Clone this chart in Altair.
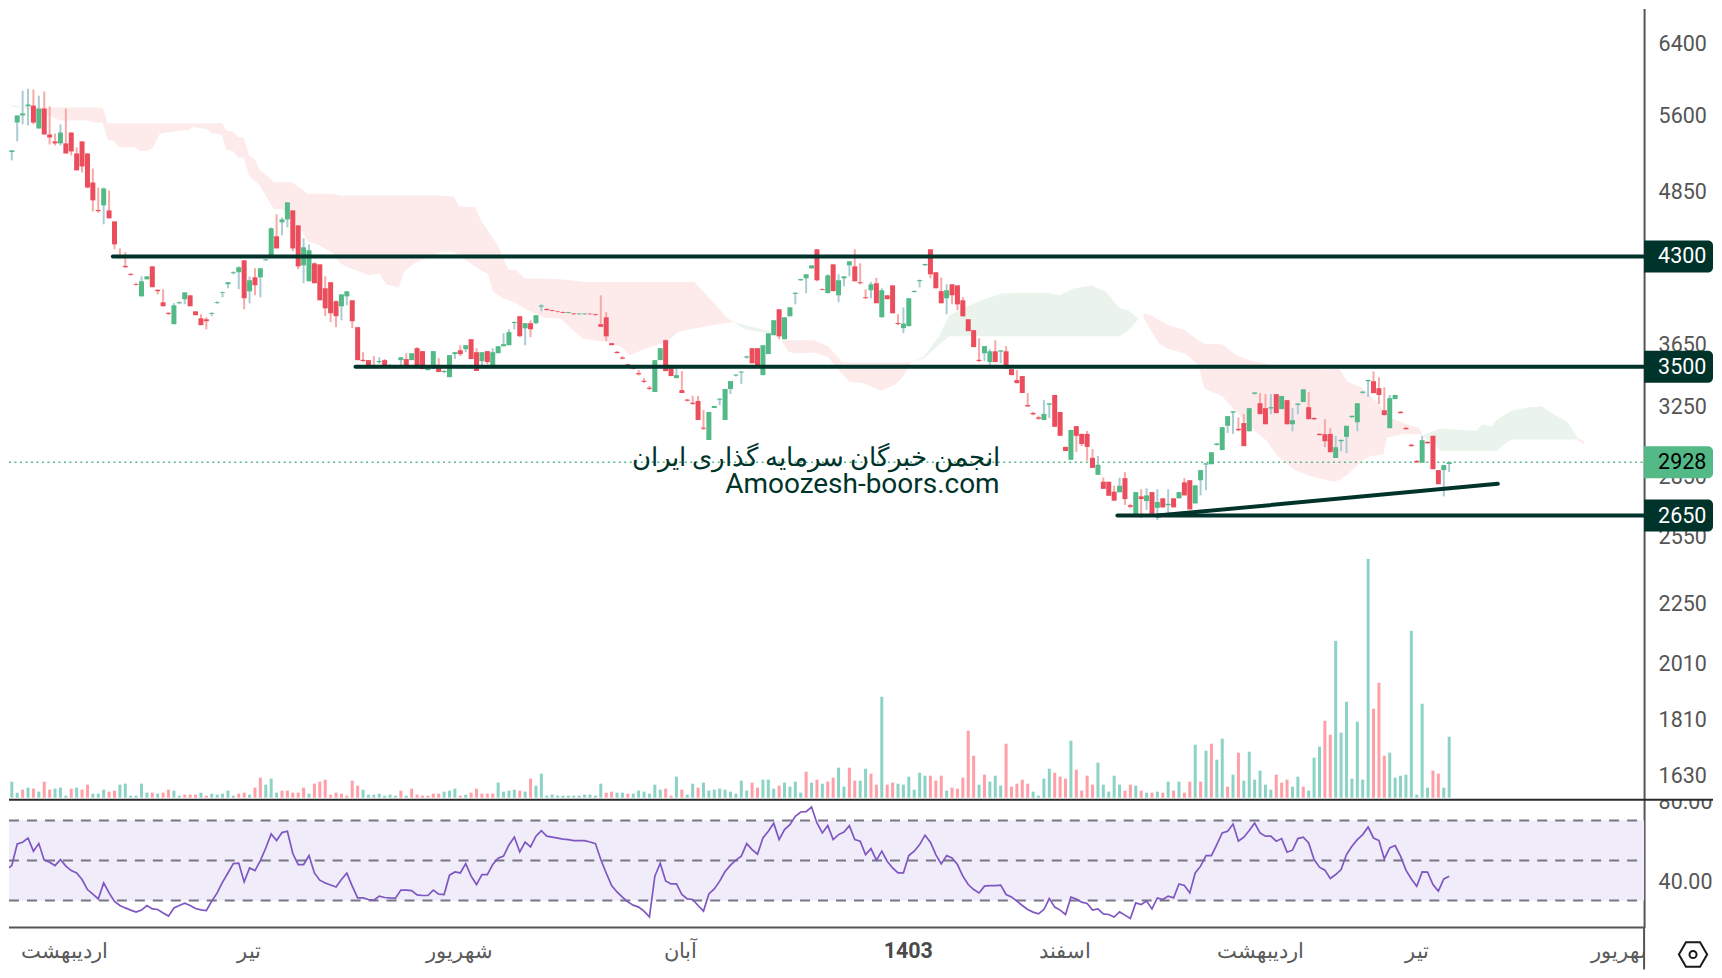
import math
import altair as alt
import pandas as pd

# ---- candles: (open, high, low, close) ----
candles_a = [
(5130,5140,5120,5135),(5185,5200,5175,5192),(5226,5242,5145,5242),(5522,5596,5331,5596),(5596,5862,5503,5617),
(5693,5881,5492,5711),(5700,5873,5503,5522),(5461,5807,5461,5668),(5668,5851,5400,5400),(5400,5690,5300,5370),
(5331,5410,5290,5311),(5311,5503,5290,5420),(5311,5668,5212,5212),(5420,5420,5193,5232),(5212,5272,5050,5050),
(5331,5331,5030,5087),(5212,5212,4882,4891),(4937,5068,4677,4775),(4690,4891,4665,4680),(4731,4891,4566,4882),
(4686,4864,4617,4617),(4591,4591,4357,4398),(4305,4365,4285,4295),(4225,4334,4206,4215),(4162,4170,4148,4155),
(4085,4094,4072,4078),(3991,4143,3991,4105),(4120,4143,4120,4143),(4221,4221,4060,4060),(4040,4045,4005,4030),
(3947,4045,3918,3918),(3870,3875,3853,3863),(3789,3940,3789,3925),(3940,3955,3933,3947),(3970,4021,3933,4021),
(3999,3999,3918,3918),(3881,3881,3853,3853),(3831,3860,3782,3782),(3824,3838,3753,3810),(3862,3875,3846,3868),
(3942,3955,3935,3948),(4018,4026,3984,4024),(4083,4098,4052,4098),(4168,4182,4158,4175),(4175,4221,4045,4214),
(4269,4269,3896,3977),(4029,4143,3940,4113),(4136,4206,3999,4075),(4136,4206,3984,4206),(4270,4280,4265,4277),
(4301,4540,4301,4532),(4465,4652,4365,4365),(4583,4625,4473,4608),(4608,4757,4540,4757),(4686,4686,4342,4365),
(4557,4557,4198,4221),(4229,4448,4090,4374),(4105,4398,4105,4350),(4245,4253,4090,4090),(4237,4237,3962,3962),
(4052,4143,3846,3903),(4098,4098,3803,3867),(3955,3962,3768,3846),(3918,4006,3817,4006),(3991,4029,3925,4029),
(3962,3962,3760,3810),(3768,3768,3543,3543),(3545,3596,3530,3537),(3543,3543,3497,3497),(3507,3569,3490,3499),
(3530,3562,3517,3537),(3543,3550,3497,3497),(3502,3517,3490,3507),(3499,3503,3486,3495),(3543,3562,3497,3562),
(3550,3589,3503,3503),(3543,3589,3543,3589),(3623,3630,3490,3490),(3603,3603,3484,3484),(3477,3508,3477,3490),
(3490,3603,3484,3603),(3503,3556,3465,3465),(3465,3477,3458,3472),(3432,3576,3432,3576),(3583,3596,3550,3596),
(3609,3643,3569,3583),(3616,3643,3596,3643),(3684,3684,3550,3550),(3596,3623,3472,3472),(3536,3596,3510,3596),
(3603,3603,3517,3530),(3497,3623,3497,3596),(3589,3636,3589,3636),(3636,3725,3636,3650),(3643,3753,3643,3733),
(3797,3810,3753,3804),(3846,3846,3698,3705),(3760,3796,3643,3796),(3796,3817,3698,3753),(3796,3853,3789,3853),
(3915,3933,3881,3923),(3898,3903,3888,3890),(3890,3893,3880,3884),(3880,3885,3872,3876),
]
candles_b = [
(3876,3880,3868,3870),(3870,3878,3866,3876),(3866,3870,3858,3860),(3860,3868,3856,3865),(3860,3868,3856,3865),
(3864,3868,3856,3860),(3860,3864,3850,3854),(3789,3999,3770,3770),(3838,3875,3672,3704),(3657,3657,3643,3643),
(3598,3603,3586,3590),(3560,3570,3548,3552),(3516,3516,3503,3503),(3492,3497,3482,3485),(3458,3478,3443,3450),
(3409,3426,3395,3402),(3365,3376,3350,3358),(3338,3543,3338,3543),(3543,3623,3543,3623),(3677,3684,3471,3471),
(3490,3490,3439,3439),(3426,3503,3426,3445),(3350,3471,3332,3332),(3291,3296,3280,3284),(3272,3314,3258,3265),
(3283,3314,3168,3168),(3123,3228,3110,3117),(3052,3216,3052,3216),(3240,3252,3240,3252),(3290,3300,3258,3296),
(3168,3357,3168,3357),(3357,3407,3326,3407),(3442,3452,3436,3448),(3462,3472,3388,3468),(3560,3572,3552,3568),
(3623,3623,3522,3522),(3623,3623,3497,3497),(3445,3643,3445,3643),(3583,3725,3583,3725),(3712,3817,3712,3817),
(3896,3896,3684,3704),(3684,3838,3684,3838),(3845,3910,3845,3910),(4010,4022,3932,4018),(4113,4125,4108,4122),
(4128,4159,4015,4159),(4205,4229,4205,4229),(4358,4358,4105,4113),(4046,4050,4036,4040),(4015,4159,4015,4151),
(4237,4237,4030,4030),(3999,4159,3948,4113),(4128,4143,4067,4143),(4229,4261,4143,4261),(4221,4358,4105,4105),
(4098,4245,4082,4090),(3985,4044,3970,3978),(4037,4100,3977,4082),(4090,4133,3940,3940),(3838,4052,3838,4037),
(3999,3999,3970,3970),(4074,4074,3867,3867),(3797,3860,3782,3790),(3761,3910,3725,3793),(3775,3977,3775,3977),
(4024,4035,4020,4032),(4106,4118,4058,4114),(4230,4242,4226,4240),(4358,4358,4128,4159),(4175,4175,4052,4052),
(4030,4133,3940,3940),(3977,4082,3860,4037),(4082,4082,3932,3999),(4074,4074,3889,3932),(3962,3985,3845,3845),
(3824,3824,3740,3740),(3747,3747,3630,3630),(3545,3691,3530,3537),(3589,3637,3536,3637),(3530,3616,3490,3602),
(3602,3677,3530,3530),(3600,3610,3522,3608),(3602,3637,3488,3488),(3484,3484,3445,3445),(3413,3478,3394,3394),
(3439,3439,3332,3332),(3258,3332,3246,3250),(3210,3216,3196,3202),(3184,3194,3168,3176),(3168,3289,3168,3204),
(3260,3270,3180,3268),(3320,3320,3128,3128),(3216,3216,3076,3076),(3013,3013,2990,2990),(2941,3110,2941,3110),
(3132,3132,2985,3076),(3087,3087,3018,3029),(3087,3104,2936,3013),(2952,3001,2897,2897),(2860,2962,2860,2914),
(2823,2846,2786,2786),(2823,2823,2750,2750),(2771,2802,2725,2725),(2768,2844,2768,2802),
]
candles_c = [
(2842,2874,2703,2733),(2702,2710,2686,2694),(2655,2769,2655,2769),(2747,2784,2638,2733),(2723,2789,2678,2752),
(2769,2769,2653,2653),(2689,2784,2628,2718),(2737,2737,2691,2691),(2702,2784,2658,2709),(2737,2737,2691,2691),
(2737,2769,2737,2769),(2820,2842,2752,2752),(2831,2831,2681,2681),(2711,2804,2711,2804),(2831,2885,2752,2885),
(2915,2923,2779,2922),(2917,2983,2917,2983),(3024,3034,3020,3032),(2995,3126,2995,3126),(3134,3191,3092,3191),
(3212,3222,3087,3220),(3116,3183,3102,3108),(3150,3203,3017,3017),(3102,3239,3102,3239),(3327,3338,3322,3335),
(3269,3331,3203,3203),(3239,3325,3143,3143),(3237,3325,3203,3245),(3325,3325,3209,3209),(3233,3313,3233,3313),
(3288,3288,3143,3143),(3143,3239,3102,3167),(3259,3269,3203,3267),(3276,3355,3276,3355),(3245,3337,3173,3173),
(3180,3185,3170,3172),(3087,3092,3078,3080),(3085,3173,3011,3045),(3087,3120,2983,2983),(2951,3076,2951,3011),
(3045,3055,2989,3053),(3070,3134,2978,3134),(3185,3195,3180,3193),(3155,3269,3102,3269),(3333,3342,3328,3341),
(3406,3416,3307,3414),(3406,3470,3331,3331),(3362,3431,3263,3320),(3226,3368,3197,3197),(3120,3320,3120,3300),
(3294,3320,3294,3320),(3217,3222,3207,3209),(3122,3128,3112,3114),(3025,3030,3015,3017),(2935,2940,2926,2927),
(2925,3076,2925,3051),(3041,3046,3032,3033),(3076,3076,2890,2890),(2885,2885,2810,2810),(2885,2912,2747,2912),
(2918,2935,2874,2928),
]

# ---- volume in arbitrary units: positive = up day, negative = down day ----
volume_a = [27,3,16,5,-8,10,-9,6,-16,-8,9,10,2,-9,10,-8,-13,4,4,8,-6,-7,13,14,2,2,14,5,-5,4,-5,-8,7,2,-3,-3,-3,5,-2,4,3,4,7,2,-4,-5,3,-10,-20,13,19,5,-7,-7,-5,-5,-10,4,-14,-16,-18,-3,-5,-4,-2,-17,-12,8,3,3,4,2,3,2,-7,2,-9,-3,-2,-2,-4,-4,6,7,9,-2,3,-5,-9,-4,-4,-4,15,6,7,8,-7,6,-19,12,24,2,3,2,2,2,2,2,3,3,2,14,-5,-6,5,5,-4,4,7,6,4,13,8,-9,-2,21,-8,3,14,-10,15,7,8,9,8,6,4,17,7,-15,-10,18,18,9,-12,15,11,16,5,-26,15,-18,14,-16,-20,30,11,-30,-17]
volume_b = [17,29,-24,-13,101,-13,-15,14,13,21,8,25,22,-22,-17,-22,7,-10,-9,-20,-67,-42,13,-23,16,22,12,-54,-11,-14,-18,-14,6,2,19,29,-25,-21,-19,57,-28,-7,-22,-13,35,13,6,22,13,-7,-13,12,-7,5,-5,6,-5,16,-7,16,-5,-16,53,-16,47,-54,38,59,-11,23,-45,17,46,18,27,13,8,-23,-15,-18,11,21,-11,7,40,51,-77,-63,157,65,96,19,76,18,239,-89,-115,-42,45,20,22,23,167,3,94,10,-27,-24,10,61]

# ---- RSI ----
rsi_a = [43.8,45.5,47.5,58.3,59.2,61.3,54.7,58.5,50.2,49.2,47.5,50.5,47.2,45,43.8,40.5,35.5,33.2,30.8,38.8,33.8,29.5,27.5,26.3,25.2,24.2,25.2,27.5,25.8,25.5,23.8,22.2,26.3,27.5,28.7,27.5,26,25.3,25,29.7,33.8,39.2,43.8,48.5,48.7,39.3,46.3,45,50,56.3,63.3,60,64,64.7,53.5,48,48,52.5,43.8,40.2,38.8,37.8,36.8,40.5,43.7,37.2,31.3,31.3,30.5,30.2,32.2,31.5,31.3,31.2,35.2,35.2,35,32.8,32.5,32.5,35.2,33.2,33,42.7,44.3,43.8,48.5,42.2,38,43,43,48,51.2,52.2,57.8,61.8,54.3,59.2,56.8,62.2,65,62.2,61.7,61.2,60.7,60.5,60,60,60,59.3,58.5,50.5,43.8,37.5,34.3,31.7,29.3,27.7,26.7,24.7,21.8,42.2,48.7,39.8,38.3,38.3,33,30.8,30.5,27.5,24.7,33.3,35.8,39.7,44.5,47.7,50.2,52.2,58.5,55.5,53.2,61.3,64.7,68.7,60.5,65.5,68,72.2,74.3,74.5,76.8,68.8,63.8,67.5,60.5,63,64.3,67.5,60.5]
rsi_b = [59.7,53,56,50.2,54.7,49.7,46.3,43.8,43.8,52.5,54.7,58,62.7,59.2,53,48.3,52.5,51.3,48,42.2,38,35.5,33.8,37.2,37.5,37.5,37.7,33,31.8,29.7,27.5,25.5,24.2,23.3,25.5,31,26.7,25.2,23,31.7,30.8,29.2,28.5,25.2,25.8,23.3,23,21.7,24.3,22.7,21,28.8,28,29.7,25.8,31.3,30.5,32.2,31.3,38.3,37.5,33.8,43.8,47.2,52.5,52.5,58,63.8,64.7,68.3,59.7,61.7,65,68.8,63.8,62.2,62.2,59.7,61,54.2,55.2,61,61.7,58.8,50.5,46.7,45.2,41,43,45.5,53,57.2,60.5,63,66.8,61.3,60,50.8,56.3,57.5,52.2,45.2,40.8,37.2,44.3,44.2,38,34.7,40.8,42.2]

# ---- Ichimoku cloud: (candle index, upper price, lower price) ----
cloud_green_0 = [(1.6,5712,5706),(2.5,5700,5685),(4,5685,5680)]
cloud_red_1 = [(4,5690,5680),(8.9,5680,5596),(10.9,5680,5544),(15.8,5680,5544),(17.2,5680,5522),(18.8,5680,5522),(19.8,5515,5341),(20.8,5515,5341),(21.8,5515,5272),(24.8,5515,5272),(25.7,5515,5235),(27.1,5515,5235),(28.1,5515,5269),(29.4,5515,5407),(30.7,5515,5420),(32.3,5515,5433),(34.7,5515,5447),(35.6,5515,5475),(38,5515,5457),(38.9,5515,5417),(40.9,5515,5393),(41.7,5437,5248),(42.9,5430,5235),(43.9,5370,5174),(44.9,5370,5171),(45.9,5193,5003),(46.9,5161,4956),(47.9,5050,4910),(49.2,5003,4798),(50.5,4940,4699),(52.1,4940,4696),(53.8,4940,4600),(55.8,4872,4501),(56.8,4834,4417),(58.4,4834,4403),(61.4,4834,4328),(62.7,4819,4248),(64,4819,4216),(66,4819,4185),(68,4819,4151),(70,4819,4164),(71.3,4819,4083),(73.6,4819,4057),(74.6,4819,4177),(76.2,4819,4237),(77.6,4819,4269),(78.9,4819,4288),(81.5,4819,4337),(83.8,4807,4337),(84.8,4722,4310),(87.8,4713,4216),(88.8,4600,4190),(90.1,4515,4164),(91.1,4445,4024),(92.1,4377,3999),(93.1,4269,3975),(93.9,4195,3962),(95.4,4190,3938),(96.9,4126,3900),(98.3,4126,3877),(100.3,4126,3836),(103.5,4120,3830),(105.5,4113,3758),(107.8,4100,3688),(112.1,4100,3665),(114.7,4100,3632),(116.4,4100,3575),(119.3,4100,3620),(123.3,4100,3665),(125.3,4100,3735),(128.3,4100,3758),(130.6,3999,3775),(132.5,3918,3789),(134.2,3840,3798),(135.5,3805,3805)]
cloud_green_1 = [(135.5,3805,3805),(137.8,3780,3752),(142.4,3740,3723),(144.4,3677,3677)]
cloud_red_2 = [(144.4,3677,3677),(145.7,3677,3598),(147.1,3677,3587),(150.4,3677,3594),(153,3637,3565),(154.3,3587,3510),(155.6,3530,3456),(157,3526,3403),(159.6,3526,3393),(162.9,3526,3344),(165.5,3526,3386),(166.9,3526,3434),(168.5,3530,3530)]
cloud_green_2 = [(168.5,3530,3530),(170.8,3565,3554),(173.5,3701,3643),(175.5,3853,3704),(178.1,3903,3704),(181.4,3962,3704),(185.3,4012,3704),(189.3,4017,3704),(193.9,4017,3704),(195.9,3999,3704),(198.5,4050,3704),(201.8,4074,3704),(204.5,4025,3704),(207,3903,3704),(208.5,3890,3740),(210.5,3830,3825)]
cloud_red_3 = [(211.4,3865,3840),(212.8,3853,3746),(214.3,3817,3653),(216.1,3781,3618),(219.1,3746,3587),(221.6,3677,3509),(222.7,3653,3360),(226,3649,3312),(228.6,3575,3218),(231.5,3537,3119),(234.1,3520,3051),(236.3,3509,2961),(239.3,3498,2889),(242.2,3494,2853),(246.6,3487,2823),(247.7,3487,2832),(249.2,3402,2862),(251.7,3370,2932),(253.2,3320,2960),(255.8,3235,2970),(256.5,3187,3066),(259.4,3152,3085),(261.3,3131,3085),(262.4,3123,3085),(263.1,3079,3079)]
cloud_green_3 = [(263.1,3079,3079),(266.4,3118,2991),(269.3,3112,2991),(273,3104,2991),(274.1,3143,2991),(275.9,3131,2991),(276.7,3167,2991),(278.1,3197,3025),(279.6,3223,3055),(282.5,3243,3055),(285.1,3251,3055),(287.7,3197,3055),(289.9,3157,3055),(291.7,3069,3055)]
cloud_red_4 = [(291.7,3069,3055),(293,3040,3025)]

# ---- support / resistance and labels ----
levels = [(20.7, 4300), (65.6, 3500), (206.6, 2650)]
trend = (214, 2650, 277, 2812)
last_price = 2928
price_ticks = [6400, 5600, 4850, 3650, 3250, 2850, 2550, 2250, 2010, 1810, 1630]
rsi_ticks = [80, 40]
rsi_levels = [70, 50, 30]
months = [(11.8, "اردیبهشت"), (45.9, "تیر"), (84.8, "شهریور"), (125.8, "آبان"), (196.9, "اسفند"), (233, "اردیبهشت"), (262, "تیر"), (300.4, "شهریور")]
year_label = (167.9, "1403")
watermark = [(184.8, 2955, "انجمن خبرگان سرمایه گذاری ایران", 26), (184.8, 2811, "Amoozesh-boors.com", 28)]

# ---- styles ----
W, H_MAIN, H_RSI, H_AXIS = 1637, 792, 128, 42
RIGHT_EXTRA = 69
X_DOM = [1.48, 304.07]
PRICE_DOM = [1559, 6832]
VOL_DOM = [-2, 790]
RSI_DOM = [16.5, 80.5]
GREEN, RED, W_GREEN, W_RED = "#53B987", "#EB4D5C", "#A9CDD3", "#F7A9A7"
V_GREEN, V_RED = "#8CD3C5", "#FF9FA8"
DARK = "#00332A"
AXIS_GREY = "#555555"
FONT = "Roboto"
PX_PER_LN = 536.0

x_scale = alt.Scale(domain=X_DOM, nice=False, zero=False, padding=0)
y_price = alt.Scale(type="log", domain=PRICE_DOM, nice=False)
price_axis = alt.Axis(orient="right", values=price_ticks, format="d", tickSize=0, grid=False, title=None,
                      labelPadding=14, labelFont=FONT, labelFontSize=21.5, labelColor=AXIS_GREY,
                      labelOverlap=False, labelFlush=False, labelBound=False, labelOffset=1,
                      domain=True, domainColor=AXIS_GREY, domainWidth=2)

rows = candles_a + candles_b + candles_c
cdf = pd.DataFrame(rows, columns=["o", "h", "l", "c"])
cdf["i"] = range(len(cdf))
cdf["up"] = cdf["c"] >= cdf["o"]
cdf["body"] = cdf["up"].map({True: GREEN, False: RED})
cdf["wick"] = cdf["up"].map({True: W_GREEN, False: W_RED})
cdf = cdf[cdf["i"] >= 2]

last_i = len(rows) - 1
vols = volume_a + volume_b
vdf = pd.DataFrame({"v": [abs(v) for v in vols],
                    "color": [V_GREEN if v > 0 else V_RED for v in vols],
                    "i": [last_i - len(vols) + 1 + k for k in range(len(vols))],
                    "base": 0})
vdf = vdf[vdf["i"] >= 2]
rsis = rsi_a + rsi_b
rdf = pd.DataFrame({"r": rsis, "i": [last_i - len(rsis) + 1 + k for k in range(len(rsis))]})


def x_q(field="i"):
    return alt.X(f"{field}:Q", scale=x_scale, axis=None)


def y_q(field):
    return alt.Y(f"{field}:Q", scale=y_price, axis=price_axis)


def cloud(rows, color):
    d = pd.DataFrame(rows, columns=["i", "top", "bot"])
    return alt.Chart(d).mark_area(color=color, opacity=1, interpolate="linear").encode(
        x=x_q(), y=y_q("top"), y2="bot:Q")


CR, CG = "#FDEBEC", "#EAF4EC"
clouds = [cloud(cloud_green_0, CG), cloud(cloud_red_1, CR), cloud(cloud_green_1, CG), cloud(cloud_red_2, CR),
          cloud(cloud_green_2, CG), cloud(cloud_red_3, CR), cloud(cloud_green_3, CG), cloud(cloud_red_4, CR)]

last_line = alt.Chart(pd.DataFrame({"p": [last_price]})).mark_rule(
    color=GREEN, strokeWidth=1.5, strokeDash=[2, 3.5]).encode(
    x=alt.value(0), x2=alt.value(W), y=y_q("p"))

wicks = alt.Chart(cdf).mark_rule(strokeWidth=2).encode(
    x=x_q(), y=y_q("h"), y2="l:Q", color=alt.Color("wick:N", scale=None, legend=None))
bodies = alt.Chart(cdf).mark_bar(size=5).encode(
    x=x_q(), y=y_q("o"), y2="c:Q", color=alt.Color("body:N", scale=None, legend=None))

ldf = pd.DataFrame(levels, columns=["i", "p"])
hlines = alt.Chart(ldf).mark_rule(color=DARK, strokeWidth=4, strokeCap="round").encode(
    x=x_q(), x2=alt.value(W), y=y_q("p"))
tdf = pd.DataFrame([trend], columns=["i", "p", "i2", "p2"])
trend_line = alt.Chart(tdf).mark_rule(color=DARK, strokeWidth=4, strokeCap="round").encode(
    x=x_q(), x2="i2:Q", y=y_q("p"), y2="p2:Q")

wdf = pd.DataFrame(watermark, columns=["i", "p", "t", "fs"])
wm = alt.Chart(wdf).mark_text(font=FONT, color=DARK, align="right", baseline="middle", dy=1).encode(
    x=x_q(), y=y_q("p"), text="t:N", size=alt.Size("fs:Q", scale=None, legend=None))

tags = [(4300, DARK, "white"), (3500, DARK, "white"), (2650, DARK, "white"), (last_price, GREEN, "black")]
tag_half = 16 / PX_PER_LN
tag_df = pd.DataFrame([{"p": p, "hi": p * math.exp(tag_half), "lo": p * math.exp(-tag_half),
                        "bg": bg, "fg": fg, "t": str(p)} for p, bg, fg in tags])
tag_box = alt.Chart(tag_df).mark_rect(cornerRadiusTopRight=5, cornerRadiusBottomRight=5).encode(
    x=alt.value(W), x2=alt.value(W + RIGHT_EXTRA), y=y_q("hi"), y2="lo:Q",
    color=alt.Color("bg:N", scale=None, legend=None))
tag_text = alt.Chart(tag_df).mark_text(font=FONT, fontSize=21.5, align="left", baseline="middle", dy=1).encode(
    x=alt.value(W + 14), y=y_q("p"), text="t:N", color=alt.Color("fg:N", scale=None, legend=None))

price_layers = alt.layer(*clouds, last_line, wicks, bodies, hlines, trend_line, wm, tag_box, tag_text)
vol_layer = alt.Chart(vdf).mark_bar(size=3).encode(
    x=x_q(),
    y=alt.Y("v:Q", scale=alt.Scale(domain=VOL_DOM, nice=False, zero=False), axis=None),
    y2="base:Q",
    color=alt.Color("color:N", scale=None, legend=None))
main = alt.layer(vol_layer, price_layers).resolve_scale(y="independent").properties(width=W, height=H_MAIN)

# ---- RSI pane ----
y_rsi = alt.Scale(domain=RSI_DOM, nice=False, zero=False)
rsi_axis = alt.Axis(orient="right", values=rsi_ticks, format=".2f", tickSize=0, grid=False, title=None,
                    labelPadding=14, labelFont=FONT, labelFontSize=21.5, labelColor=AXIS_GREY,
                    labelOverlap=False, labelFlush=False, labelBound=False, labelOffset=2,
                    domain=True, domainColor=AXIS_GREY, domainWidth=2)
band = alt.Chart(pd.DataFrame({"a": [max(rsi_levels)], "b": [min(rsi_levels)]})).mark_rect(color="#F0ECF9").encode(
    x=alt.value(0), x2=alt.value(W), y=alt.Y("a:Q", scale=y_rsi, axis=rsi_axis), y2="b:Q")
dashes = alt.Chart(pd.DataFrame({"r": rsi_levels})).mark_rule(color="#787586", strokeWidth=2, strokeDash=[10, 8]).encode(
    x=alt.value(0), x2=alt.value(W), y=alt.Y("r:Q", scale=y_rsi, axis=rsi_axis))
rsi_line = alt.Chart(rdf).mark_line(color="#7E57C2", strokeWidth=1.7, clip=True).encode(
    x=x_q(), y=alt.Y("r:Q", scale=y_rsi, axis=rsi_axis))
mask = alt.Chart(pd.DataFrame({"a": [0]})).mark_rect(color="white").encode(
    x=alt.value(W + 2), x2=alt.value(W + RIGHT_EXTRA), y=alt.value(-14), y2=alt.value(0))
top_sep = alt.Chart(pd.DataFrame({"a": [0]})).mark_rule(color="#2A2A2A", strokeWidth=2).encode(
    x=alt.value(0), x2=alt.value(W + RIGHT_EXTRA), y=alt.value(0))
bot_sep = alt.Chart(pd.DataFrame({"a": [0]})).mark_rule(color=AXIS_GREY, strokeWidth=2).encode(
    x=alt.value(0), x2=alt.value(W), y=alt.value(H_RSI))
rsi = alt.layer(band, dashes, rsi_line, mask, top_sep, bot_sep).properties(width=W, height=H_RSI)

# ---- time axis pane ----
mdf = pd.DataFrame(months, columns=["i", "t"])
month_text = alt.Chart(mdf).mark_text(font=FONT, fontSize=21, color="#5A5A5A", align="center", baseline="middle", clip=True).encode(
    x=x_q(), y=alt.value(25), text="t:N")
ydf = pd.DataFrame([year_label], columns=["i", "t"])
year_text = alt.Chart(ydf).mark_text(font=FONT, fontSize=21.5, fontWeight="bold", color="#4A4A4A", align="center", baseline="middle", clip=True).encode(
    x=x_q(), y=alt.value(25), text="t:N")
vline = alt.Chart(pd.DataFrame({"a": [0]})).mark_rule(color=AXIS_GREY, strokeWidth=2).encode(
    x=alt.value(W), y=alt.value(0), y2=alt.value(H_AXIS))
HEX = "M -1 0 L -0.5 -0.87 L 0.5 -0.87 L 1 0 L 0.5 0.87 L -0.5 0.87 Z"
hexagon = alt.Chart(pd.DataFrame({"a": [0]})).mark_point(shape=HEX, size=800, filled=False, stroke="#1A1A1A", strokeWidth=2, opacity=1).encode(
    x=alt.value(W + 49), y=alt.value(27))
dot = alt.Chart(pd.DataFrame({"a": [0]})).mark_point(shape="circle", size=50, filled=False, stroke="#1A1A1A", strokeWidth=2, opacity=1).encode(
    x=alt.value(W + 49), y=alt.value(27))
time_pane = alt.layer(month_text, year_text, vline, hexagon, dot).properties(width=W, height=H_AXIS)

chart = alt.vconcat(main, rsi, time_pane, spacing=0, bounds="flush").properties(
    padding=0, background="white", autosize=alt.AutoSizeParams(type="pad")
).configure_view(stroke=None).configure_concat(spacing=0)

chart.save("out.html", embed_options={"renderer": "svg", "actions": False})
